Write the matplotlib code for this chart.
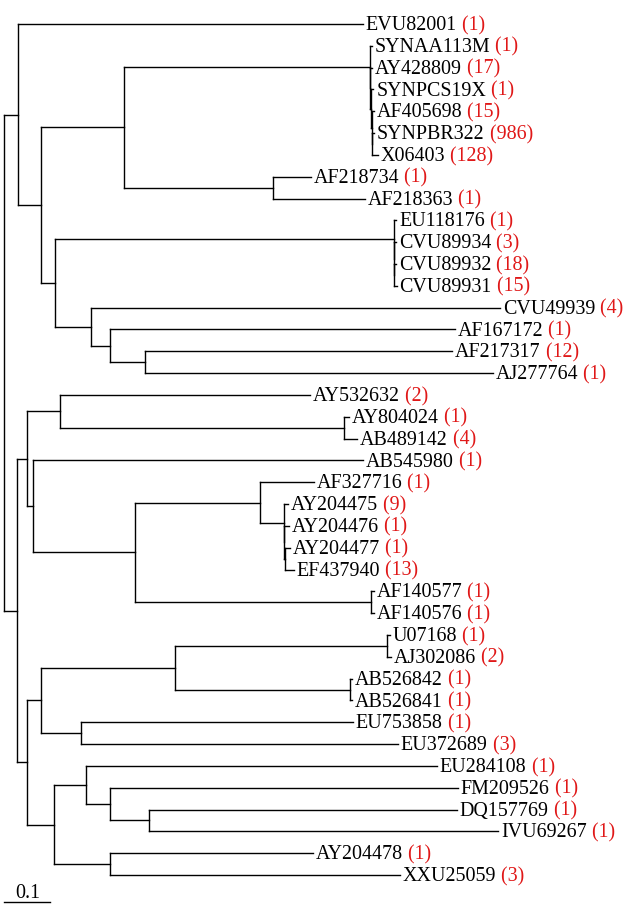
import matplotlib
matplotlib.use("Agg")
import matplotlib.pyplot as plt

# ---------------- data ----------------
leaf_names = ["EVU82001", "SYNAA113M", "AY428809", "SYNPCS19X", "AF405698", "SYNPBR322",
              "X06403", "AF218734", "AF218363", "EU118176", "CVU89934", "CVU89932",
              "CVU89931", "CVU49939", "AF167172", "AF217317", "AJ277764", "AY532632",
              "AY804024", "AB489142", "AB545980", "AF327716", "AY204475", "AY204476",
              "AY204477", "EF437940", "AF140577", "AF140576", "U07168", "AJ302086",
              "AB526842", "AB526841", "EU753858", "EU372689", "EU284108", "FM209526",
              "DQ157769", "IVU69267", "AY204478", "XXU25059"]
leaf_counts = [1, 1, 17, 1, 15, 986, 128, 1, 1, 1, 3, 18, 15, 4, 1, 12, 1, 2, 1, 4, 1, 1,
               9, 1, 1, 13, 1, 1, 1, 2, 1, 1, 1, 3, 1, 1, 1, 1, 1, 3]
leaf_parent = ["A", "E1", "E2", "E3", "E4", "E5", "E5", "F", "F", "G1", "G2", "G3", "G3",
               "H", "I", "J", "J", "M", "N", "N", "O", "Q", "S1", "S2", "S3", "S3", "R", "R",
               "V1", "V1", "V2", "V2", "W", "W", "Y", "AA", "AB", "AB", "Z", "Z"]
# distance of each tip from the root
leaf_depth = [0.789, 0.809, 0.809, 0.812, 0.813, 0.814, 0.822, 0.675, 0.793, 0.862,
              0.862, 0.862, 0.863, 1.090, 0.991, 0.985, 1.075, 0.673, 0.758, 0.776,
              0.789, 0.681, 0.624, 0.626, 0.629, 0.637, 0.813, 0.813, 0.848, 0.851,
              0.765, 0.765, 0.767, 0.866, 0.952, 0.998, 0.996, 1.086, 0.679, 0.870]

node_ids = ["root", "A", "B", "C", "E1", "E2", "E3", "E4", "E5", "F", "D", "G1", "G2", "G3",
            "H", "I", "J", "K", "L", "M", "N", "O", "P", "Q", "S1", "S2", "S3", "R",
            "T", "U", "V", "V1", "V2", "W", "X", "Y", "AA", "AB", "Z"]
node_parent = [None, "root", "A", "B", "C", "E1", "E2", "E3", "E4", "C", "B", "D", "G1", "G2",
               "D", "H", "I", "root", "K", "L", "M", "L", "O", "P", "Q", "S1", "S2", "P",
               "K", "T", "U", "V", "V", "U", "T", "X", "Y", "AA", "X"]
node_depth = [0.0, 0.031, 0.081, 0.264, 0.804, 0.805, 0.807, 0.808, 0.809, 0.591, 0.112,
              0.857, 0.858, 0.858, 0.191, 0.233, 0.310, 0.029, 0.051, 0.123, 0.747, 0.064,
              0.288, 0.563, 0.615, 0.616, 0.618, 0.807, 0.051, 0.081, 0.376, 0.842, 0.760,
              0.169, 0.110, 0.180, 0.233, 0.319, 0.233]

scale_value = 0.1
scale_label = "0.1"

# ---------------- layout ----------------
FONT = "Liberation Serif"
FS = 14.4
RED = "#e01818"
LW = 1.0

depth = dict(zip(node_ids, node_depth))
parent = dict(zip(node_ids, node_parent))
children = {n: [] for n in node_ids}
for i, p in enumerate(leaf_parent):
    children[p].append(("leaf", i))
for n, p in zip(node_ids, node_parent):
    if p is not None:
        children[p].append(("node", n))

ypos = {}


def node_y(n):
    if n in ypos:
        return ypos[n]
    ys = []
    for kind, c in children[n]:
        ys.append(float(c) if kind == "leaf" else node_y(c))
    ypos[n] = (min(ys) + max(ys)) / 2.0
    return ypos[n]


for n in node_ids:
    node_y(n)

fig = plt.figure(figsize=(6.29, 9.11), dpi=100)
ax = fig.add_axes([0, 0, 1, 1])
ax.set_xlim(-4 / 455, 625 / 455)
ax.set_ylim((911 - 24) / 21.82, -24 / 21.82)
ax.axis("off")

line_kw = dict(color="black", lw=LW, solid_capstyle="projecting")

# vertical lines at internal nodes
for n in node_ids:
    ys = []
    for kind, c in children[n]:
        ys.append(float(c) if kind == "leaf" else ypos[c])
    ax.plot([depth[n], depth[n]], [min(ys), max(ys)], **line_kw)

# horizontal branches for internal nodes
for n in node_ids:
    p = parent[n]
    if p is None:
        continue
    ax.plot([depth[p], depth[n]], [ypos[n], ypos[n]], **line_kw)

# leaf branches and labels
name_texts = []
for i, name in enumerate(leaf_names):
    p = leaf_parent[i]
    ax.plot([depth[p], leaf_depth[i]], [i, i], **line_kw)
    t = ax.text(leaf_depth[i] + 0.006, i + 0.28, name, fontsize=FS, family=FONT,
                va="baseline", ha="left", color="black")
    name_texts.append(t)

fig.canvas.draw()
renderer = fig.canvas.get_renderer()
inv = ax.transData.inverted()
for i, t in enumerate(name_texts):
    bb = t.get_window_extent(renderer)
    x1 = inv.transform((bb.x1, bb.y0))[0]
    ax.text(x1, i + 0.28, " (%d)" % leaf_counts[i], fontsize=FS, family=FONT,
            va="baseline", ha="left", color=RED)

# scale bar
sb_y = (902 - 24) / 21.82
ax.plot([-0.001, scale_value], [sb_y, sb_y], color="black", lw=LW)
ax.text(scale_value / 2 + 0.003, (898 - 24) / 21.82, scale_label, fontsize=FS, family=FONT,
        va="baseline", ha="center")

fig.savefig("out.png", dpi=100)
